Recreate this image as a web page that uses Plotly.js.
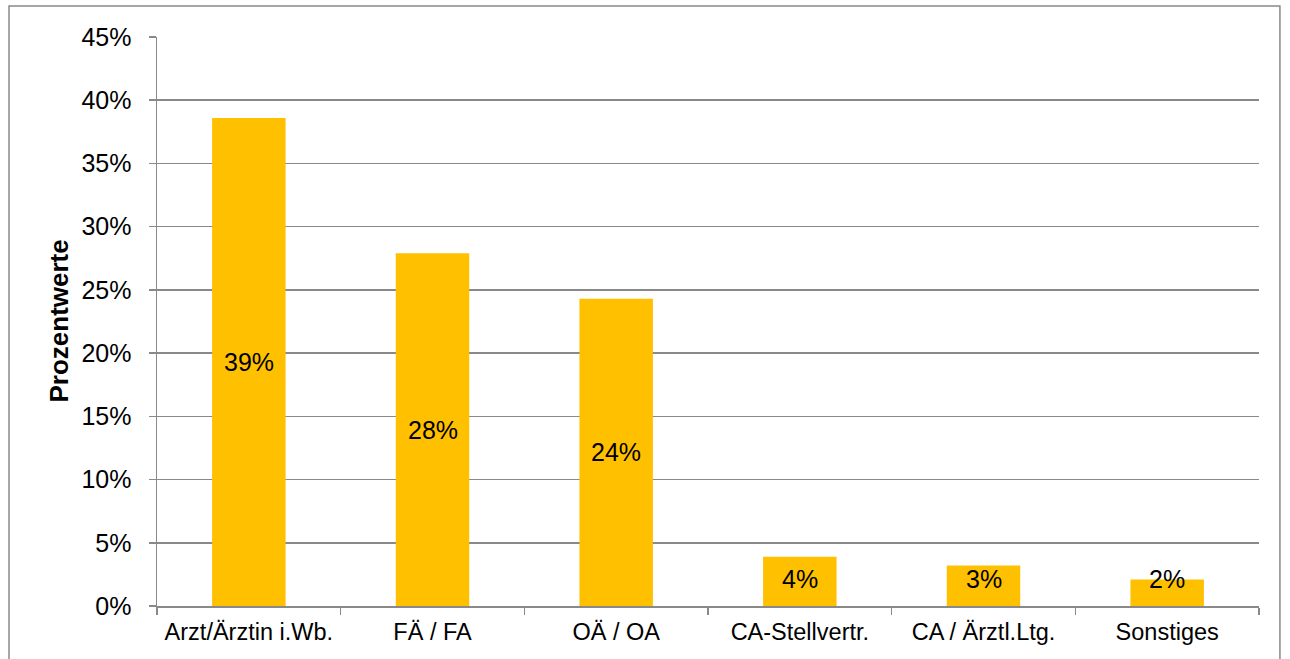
<!DOCTYPE html>
<html>
<head>
<meta charset="utf-8">
<script src="https://cdn.plot.ly/plotly-3.0.1.min.js"></script>
<style>html,body{margin:0;padding:0;background:#fff;}#chart{width:1290px;height:659px;}</style>
</head>
<body>
<div id="chart"></div>
<script>
const categories = ["Arzt/Ärztin i.Wb.", "FÄ / FA", "OÄ / OA", "CA-Stellvertr.", "CA / Ärztl.Ltg.", "Sonstiges"];
const values = [0.386, 0.279, 0.243, 0.039, 0.032, 0.021];
const labels = values.map(v => Math.round(v * 100) + "%");
const yTicks = [0, 0.05, 0.10, 0.15, 0.20, 0.25, 0.30, 0.35, 0.40, 0.45];
const yTickLabels = ["0%", "5%", "10%", "15%", "20%", "25%", "30%", "35%", "40%", "45%"];

const FONT = "Liberation Sans, Arial, sans-serif";

const trace = {
  type: "bar",
  x: categories,
  y: values,
  marker: {color: "#FFC000"},
  hoverinfo: "none"
};

// data labels centred in the bar, kept clear of the axis for short bars
const labelAnnotations = categories.map((c, i) => ({
  x: c, y: Math.max(values[i] / 2, 0.0215), xref: "x", yref: "y",
  text: labels[i], showarrow: false, yanchor: "middle", xanchor: "center",
  font: {family: FONT, size: 25, color: "#000"}
}));

const layout = {
  width: 1290, height: 659,
  margin: {l: 157, r: 31, t: 37, b: 53},
  paper_bgcolor: "#fff", plot_bgcolor: "#fff",
  bargap: 0.6,
  showlegend: false,
  font: {family: FONT, color: "#000"},
  xaxis: {
    type: "category",
    showline: true, linecolor: "#898989", linewidth: 1.5,
    ticks: "outside", tickson: "boundaries", ticklen: 7, tickcolor: "#898989", tickwidth: 1.5,
    tickfont: {family: FONT, size: 23.5, color: "#000"},
    ticklabelstandoff: 4,
    showgrid: false, zeroline: false
  },
  yaxis: {
    range: [0, 0.45],
    tickvals: yTicks, ticktext: yTickLabels,
    showline: true, linecolor: "#898989", linewidth: 1.5,
    ticks: "outside", ticklen: 7, tickcolor: "#898989", tickwidth: 1.5,
    ticklabelstandoff: 12,
    showgrid: true, gridcolor: "#898989", gridwidth: 1.5,
    zeroline: false,
    tickfont: {family: FONT, size: 25, color: "#000"}
  },
  annotations: labelAnnotations.concat([{
    xref: "paper", yref: "paper", x: -0.0898, y: 0.5,
    text: "<b>Prozentwerte</b>", textangle: -90, showarrow: false,
    xanchor: "center", yanchor: "middle",
    font: {family: FONT, size: 26, color: "#000"}
  }]),
  shapes: [{
    type: "rect", xref: "paper", yref: "paper",
    x0: -0.1343, x1: 1.019, y0: -0.3, y1: 1.0545,
    line: {color: "#898989", width: 1.5}, fillcolor: "rgba(0,0,0,0)", layer: "below"
  }]
};

Plotly.newPlot("chart", [trace], layout, {staticPlot: true});
</script>
</body>
</html>
